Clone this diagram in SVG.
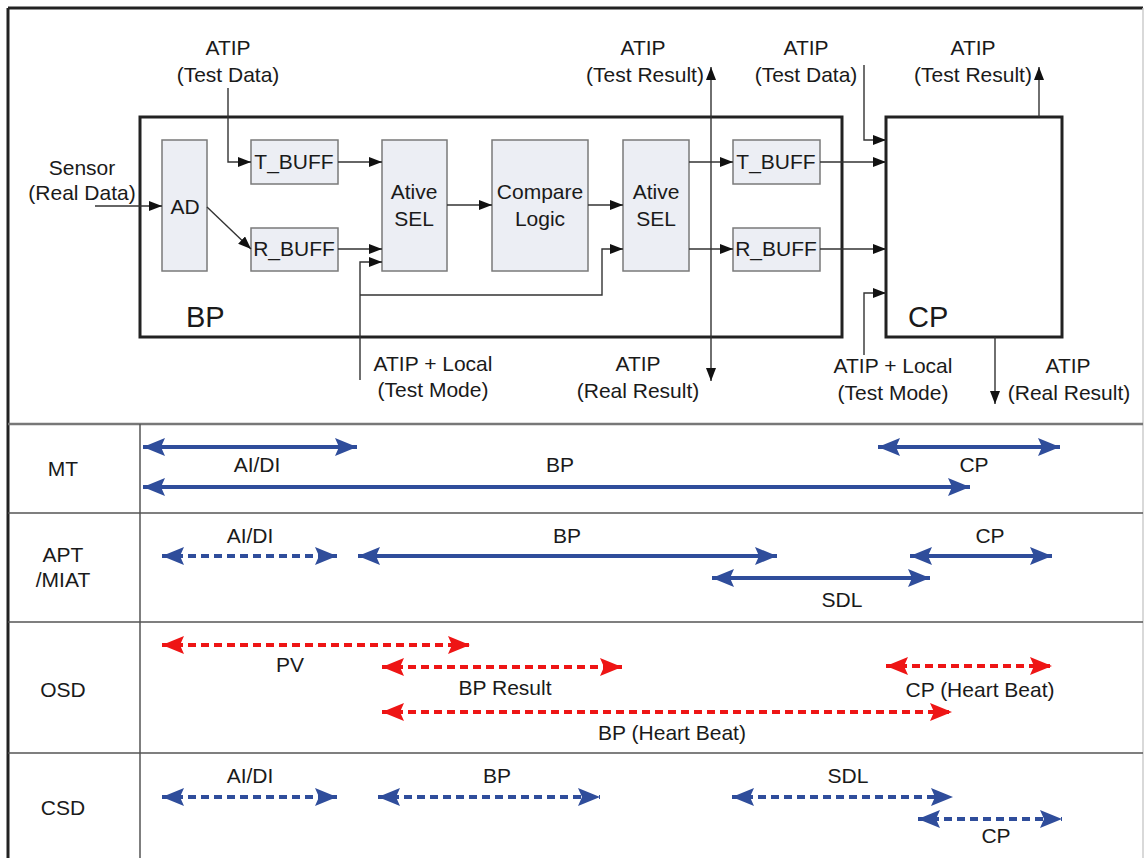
<svg xmlns="http://www.w3.org/2000/svg" width="1145" height="858" viewBox="0 0 1145 858">
<style>
text{font-family:"Liberation Sans",Arial,sans-serif;font-size:21px;fill:#1a1a1a;text-anchor:middle}
.big{font-size:29px;text-anchor:start}
.blk{fill:#eceef4;stroke:#7a7a7a;stroke-width:1.5}
.frame{fill:none;stroke:#222;stroke-width:3}
.wire{fill:none;stroke:#333;stroke-width:1.4;marker-end:url(#ah)}
.grid{stroke:#555;stroke-width:1.5}
.b{stroke:#2f4d9b;stroke-width:4;fill:none;marker-start:url(#bh);marker-end:url(#bh)}
.r{stroke:#ee1515;stroke-width:4;fill:none;marker-start:url(#rh);marker-end:url(#rh)}
.d{stroke-dasharray:8 5}
</style>
<defs>
<marker id="ah" markerUnits="userSpaceOnUse" markerWidth="13" markerHeight="10" refX="13" refY="5" orient="auto"><path d="M0,0 L13,5 L0,10 z" fill="#111"/></marker>
<marker id="bh" markerUnits="userSpaceOnUse" markerWidth="22" markerHeight="18" refX="22" refY="9" orient="auto-start-reverse"><path d="M0,0 L22,9 L0,18 L4,9 z" fill="#2f4d9b"/></marker>
<marker id="rh" markerUnits="userSpaceOnUse" markerWidth="22" markerHeight="18" refX="22" refY="9" orient="auto-start-reverse"><path d="M0,0 L22,9 L0,18 L4,9 z" fill="#ee1515"/></marker>
</defs>
<rect width="1145" height="858" fill="#fff"/>
<g id="frame">
<line x1="8" y1="8" x2="1143" y2="8" stroke="#222" stroke-width="3"/>
<line x1="8" y1="8" x2="8" y2="858" stroke="#222" stroke-width="3"/>
<line x1="1143" y1="8" x2="1143" y2="858" stroke="#ccc" stroke-width="1.5"/>
<line x1="8" y1="424" x2="1143" y2="424" stroke="#777" stroke-width="2.5"/>
<line class="grid" x1="8" y1="513" x2="1143" y2="513"/>
<line class="grid" x1="8" y1="622" x2="1143" y2="622"/>
<line class="grid" x1="8" y1="753" x2="1143" y2="753"/>
<line class="grid" x1="140" y1="424" x2="140" y2="858"/>
</g>
<g id="bp">
<rect class="frame" x="140" y="117" width="702" height="220"/>
<text class="big" x="186" y="327">BP</text>
</g>
<g id="cp">
<rect class="frame" x="886" y="117" width="176" height="220"/>
<text class="big" x="908" y="327">CP</text>
</g>
<g id="ad"><rect class="blk" x="162" y="140" width="45" height="131"/><text x="185" y="214">AD</text></g>
<g id="tbuff1"><rect class="blk" x="251" y="140" width="87" height="44"/><text x="294" y="169">T_BUFF</text></g>
<g id="rbuff1"><rect class="blk" x="251" y="228" width="87" height="43"/><text x="294" y="256">R_BUFF</text></g>
<g id="sel1"><rect class="blk" x="382" y="140" width="65" height="131"/><text x="414" y="199">Ative</text><text x="414" y="226">SEL</text></g>
<g id="compare"><rect class="blk" x="492" y="140" width="96" height="131"/><text x="540" y="199">Compare</text><text x="540" y="226">Logic</text></g>
<g id="sel2"><rect class="blk" x="623" y="140" width="66" height="131"/><text x="656" y="199">Ative</text><text x="656" y="226">SEL</text></g>
<g id="tbuff2"><rect class="blk" x="733" y="140" width="87" height="44"/><text x="776" y="169">T_BUFF</text></g>
<g id="rbuff2"><rect class="blk" x="733" y="228" width="87" height="43"/><text x="776" y="256">R_BUFF</text></g>
<g id="labels-top">
<text x="228" y="55">ATIP</text><text x="228" y="82">(Test Data)</text>
<text x="82" y="175">Sensor</text><text x="82" y="200">(Real Data)</text>
<text x="643" y="55">ATIP</text><text x="645" y="82">(Test Result)</text>
<text x="806" y="55">ATIP</text><text x="806" y="82">(Test Data)</text>
<text x="973" y="55">ATIP</text><text x="973" y="82">(Test Result)</text>
<text x="433" y="371">ATIP + Local</text><text x="433" y="397">(Test Mode)</text>
<text x="638" y="371">ATIP</text><text x="638" y="398">(Real Result)</text>
<text x="893" y="373">ATIP + Local</text><text x="893" y="400">(Test Mode)</text>
<text x="1068" y="373">ATIP</text><text x="1069" y="400">(Real Result)</text>
</g>
<g id="connectors">
<path class="wire" d="M228,88 V162 H251"/>
<path class="wire" d="M95,206 H162"/>
<path class="wire" d="M207,207 L251,249"/>
<path class="wire" d="M338,162 H382"/>
<path class="wire" d="M338,249 H382"/>
<path class="wire" d="M360,380 V262 H382"/>
<path class="wire" d="M360,295 H602 V249 H623"/>
<path class="wire" d="M447,205 H492"/>
<path class="wire" d="M588,205 H623"/>
<path class="wire" d="M689,162 H733"/>
<path class="wire" d="M689,249 H733"/>
<path class="wire" d="M711,200 V67"/>
<path class="wire" d="M711,200 V381"/>
<path class="wire" d="M864,65 V140 H886"/>
<path class="wire" d="M820,162 H886"/>
<path class="wire" d="M820,249 H886"/>
<path class="wire" d="M864,355 V293 H886"/>
<path class="wire" d="M1039,117 V67"/>
<path class="wire" d="M995,337 V404"/>
</g>
<g id="row-labels">
<text x="63" y="476">MT</text>
<text x="63" y="562">APT</text><text x="63" y="587">/MIAT</text>
<text x="63" y="697">OSD</text>
<text x="63" y="815">CSD</text>
</g>
<g id="spans">
<line class="b" x1="143" y1="447" x2="357" y2="447"/>
<line class="b" x1="143" y1="487" x2="970" y2="487"/>
<line class="b" x1="878" y1="447" x2="1060" y2="447"/>
<line class="b d" x1="162" y1="556" x2="337" y2="556"/>
<line class="b" x1="358" y1="556" x2="777" y2="556"/>
<line class="b" x1="712" y1="578" x2="930" y2="578"/>
<line class="b" x1="910" y1="556" x2="1052" y2="556"/>
<line class="r d" x1="162" y1="645" x2="470" y2="645"/>
<line class="r d" x1="382" y1="667" x2="622" y2="667"/>
<line class="r d" x1="886" y1="666" x2="1052" y2="666"/>
<line class="r d" x1="382" y1="712" x2="952" y2="712"/>
<line class="b d" x1="162" y1="797" x2="337" y2="797"/>
<line class="b d" x1="378" y1="797" x2="600" y2="797"/>
<line class="b d" x1="732" y1="797" x2="953" y2="797"/>
<line class="b d" x1="918" y1="819" x2="1062" y2="819"/>
</g>
<g id="span-labels">
<text x="257" y="472">AI/DI</text><text x="560" y="472">BP</text><text x="974" y="472">CP</text>
<text x="250" y="543">AI/DI</text><text x="567" y="543">BP</text><text x="842" y="607">SDL</text><text x="990" y="543">CP</text>
<text x="290" y="672">PV</text><text x="505" y="695">BP Result</text><text x="980" y="697">CP (Heart Beat)</text><text x="672" y="740">BP (Heart Beat)</text>
<text x="250" y="783">AI/DI</text><text x="497" y="783">BP</text><text x="848" y="783">SDL</text><text x="996" y="843">CP</text>
</g>
</svg>
